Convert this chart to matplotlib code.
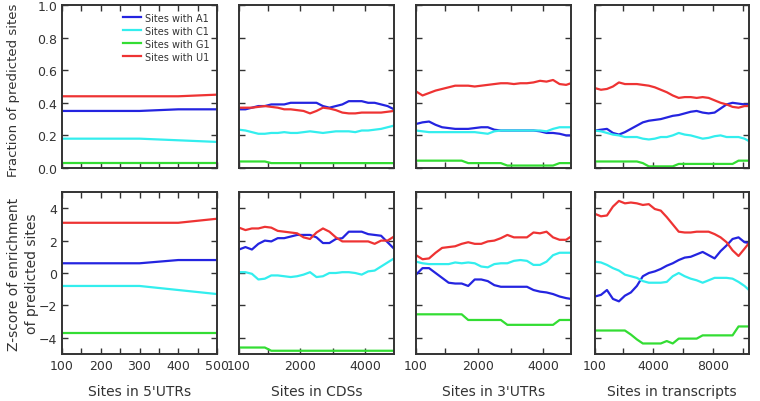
import matplotlib
matplotlib.use("Agg")
import matplotlib.pyplot as plt
from matplotlib.ticker import FixedLocator, NullFormatter

plt.rcParams['font.family'] = ['DejaVu Sans']

series_names = ["Sites with A1", "Sites with C1", "Sites with G1", "Sites with U1"]
colors = ["#2424e0", "#33eeee", "#33dd33", "#ee3333"]

# Panel 1: 5'UTRs
x_utr5 = [100, 200, 300, 400, 500]
frac_utr5 = {
    "A1": [0.35, 0.35, 0.35, 0.36, 0.36],
    "C1": [0.18, 0.18, 0.18, 0.17, 0.16],
    "G1": [0.03, 0.03, 0.03, 0.03, 0.03],
    "U1": [0.44, 0.44, 0.44, 0.44, 0.45],
}
z_utr5 = {
    "A1": [0.6, 0.6, 0.6, 0.8, 0.8],
    "C1": [-0.8, -0.8, -0.8, -1.05, -1.3],
    "G1": [-3.7, -3.7, -3.7, -3.7, -3.7],
    "U1": [3.1, 3.1, 3.1, 3.1, 3.35],
}

# Panel 2: CDSs
x_cds = [100, 300, 500, 700, 900, 1100, 1300, 1500, 1700, 1900, 2100, 2300, 2500,
         2700, 2900, 3100, 3300, 3500, 3700, 3900, 4100, 4300, 4500, 4700, 4900]
frac_cds = {
    "A1": [0.36, 0.36, 0.37, 0.38, 0.38, 0.39, 0.39, 0.39, 0.40, 0.40, 0.40, 0.40, 0.40,
           0.38, 0.37, 0.38, 0.39, 0.41, 0.41, 0.41, 0.40, 0.40, 0.39, 0.38, 0.36],
    "C1": [0.235, 0.23, 0.22, 0.21, 0.21, 0.215, 0.215, 0.22, 0.215, 0.215, 0.22, 0.225, 0.22,
           0.215, 0.22, 0.225, 0.225, 0.225, 0.22, 0.23, 0.23, 0.235, 0.24, 0.25, 0.26],
    "G1": [0.04, 0.04, 0.04, 0.04, 0.04, 0.03, 0.03, 0.03, 0.03, 0.03, 0.03, 0.03, 0.03,
           0.03, 0.03, 0.03, 0.03, 0.03, 0.03, 0.03, 0.03, 0.03, 0.03, 0.03, 0.03],
    "U1": [0.37, 0.37, 0.37, 0.375, 0.38, 0.375, 0.37, 0.36, 0.36, 0.355, 0.35, 0.335, 0.35,
           0.37, 0.365, 0.355, 0.34, 0.335, 0.335, 0.34, 0.34, 0.34, 0.34, 0.345, 0.35],
}
z_cds = {
    "A1": [1.45, 1.6, 1.45, 1.8, 2.0, 1.95, 2.15, 2.15, 2.25, 2.35, 2.35, 2.35, 2.2,
           1.85, 1.85, 2.1, 2.15, 2.55, 2.55, 2.55, 2.4, 2.35, 2.3, 1.9, 1.5],
    "C1": [0.05, 0.05, -0.05, -0.4, -0.35, -0.15, -0.15, -0.2, -0.25, -0.2, -0.1, 0.05, -0.25,
           -0.2, 0.0, 0.0, 0.05, 0.05, 0.0, -0.1, 0.1, 0.15, 0.4, 0.65, 0.9],
    "G1": [-4.6, -4.6, -4.6, -4.6, -4.6, -4.8, -4.8, -4.8, -4.8, -4.8, -4.8, -4.8, -4.8,
           -4.8, -4.8, -4.8, -4.8, -4.8, -4.8, -4.8, -4.8, -4.8, -4.8, -4.8, -4.8],
    "U1": [2.8, 2.65, 2.75, 2.75, 2.85, 2.8, 2.6, 2.55, 2.5, 2.45, 2.2, 2.1, 2.5,
           2.75, 2.55, 2.2, 1.95, 1.95, 1.95, 1.95, 1.95, 1.8, 2.0, 2.0, 2.25],
}

# Panel 3: 3'UTRs
x_utr3 = [100, 300, 500, 700, 900, 1100, 1300, 1500, 1700, 1900, 2100, 2300, 2500,
          2700, 2900, 3100, 3300, 3500, 3700, 3900, 4100, 4300, 4500, 4700, 4850]
frac_utr3 = {
    "A1": [0.27, 0.28, 0.285, 0.265, 0.25, 0.245, 0.24, 0.24, 0.24, 0.245, 0.25, 0.25, 0.235,
           0.23, 0.23, 0.23, 0.23, 0.23, 0.23, 0.225, 0.215, 0.215, 0.21, 0.2, 0.2],
    "C1": [0.23, 0.225, 0.22, 0.22, 0.22, 0.22, 0.22, 0.22, 0.22, 0.22, 0.215, 0.21, 0.225,
           0.23, 0.23, 0.23, 0.23, 0.23, 0.23, 0.23, 0.225, 0.24, 0.25, 0.25, 0.25],
    "G1": [0.045, 0.045, 0.045, 0.045, 0.045, 0.045, 0.045, 0.045, 0.03, 0.03, 0.03, 0.03, 0.03,
           0.03, 0.015, 0.015, 0.015, 0.015, 0.015, 0.015, 0.015, 0.015, 0.03, 0.03, 0.03],
    "U1": [0.47, 0.445, 0.46, 0.475, 0.485, 0.495, 0.505, 0.505, 0.505, 0.50, 0.505, 0.51, 0.515,
           0.52, 0.52, 0.515, 0.52, 0.52, 0.525, 0.535, 0.53, 0.54, 0.515, 0.51, 0.52],
}
z_utr3 = {
    "A1": [-0.1, 0.3, 0.3, 0.0, -0.3, -0.6, -0.65, -0.65, -0.8, -0.4, -0.4, -0.5, -0.75,
           -0.85, -0.85, -0.85, -0.85, -0.85, -1.05, -1.15, -1.2, -1.3, -1.45, -1.55, -1.6],
    "C1": [0.7, 0.6, 0.55, 0.55, 0.55, 0.55, 0.65, 0.6, 0.65, 0.6, 0.4, 0.35, 0.55,
           0.6, 0.6, 0.75, 0.8, 0.75, 0.5, 0.5, 0.7, 1.1, 1.25, 1.25, 1.25],
    "G1": [-2.55, -2.55, -2.55, -2.55, -2.55, -2.55, -2.55, -2.55, -2.9, -2.9, -2.9, -2.9, -2.9,
           -2.9, -3.2, -3.2, -3.2, -3.2, -3.2, -3.2, -3.2, -3.2, -2.9, -2.9, -2.9],
    "U1": [1.1, 0.85, 0.9, 1.25, 1.55, 1.6, 1.65, 1.8, 1.9, 1.8, 1.8, 1.95, 2.0,
           2.15, 2.35, 2.2, 2.2, 2.2, 2.5, 2.45, 2.55, 2.2, 2.05, 2.05, 2.25],
}

# Panel 4: transcripts
x_tx = [100, 500, 900, 1300, 1700, 2100, 2500, 2900, 3300, 3700, 4100, 4500, 4900, 5300,
        5700, 6100, 6500, 6900, 7300, 7700, 8100, 8500, 8900, 9300, 9700, 10100, 10400]
frac_tx = {
    "A1": [0.23, 0.235, 0.24, 0.215, 0.205, 0.22, 0.24, 0.26, 0.28, 0.29, 0.295, 0.30, 0.31, 0.32,
           0.325, 0.335, 0.345, 0.35, 0.34, 0.335, 0.34, 0.365, 0.39, 0.40, 0.395, 0.39, 0.39],
    "C1": [0.23, 0.225, 0.215, 0.205, 0.20, 0.19, 0.19, 0.19, 0.18, 0.175, 0.18, 0.19, 0.19, 0.20,
           0.215, 0.205, 0.20, 0.19, 0.18, 0.185, 0.195, 0.20, 0.19, 0.19, 0.19, 0.18, 0.165],
    "G1": [0.04, 0.04, 0.04, 0.04, 0.04, 0.04, 0.04, 0.04, 0.03, 0.01, 0.01, 0.01, 0.01, 0.01,
           0.025, 0.025, 0.025, 0.025, 0.025, 0.025, 0.025, 0.025, 0.025, 0.025, 0.045, 0.045, 0.045],
    "U1": [0.49, 0.48, 0.485, 0.50, 0.525, 0.515, 0.515, 0.515, 0.51, 0.505, 0.495, 0.48, 0.465, 0.445,
           0.43, 0.435, 0.435, 0.43, 0.435, 0.43, 0.415, 0.40, 0.39, 0.375, 0.37, 0.38, 0.38],
}
z_tx = {
    "A1": [-1.45, -1.35, -1.05, -1.6, -1.75, -1.4, -1.2, -0.8, -0.2, 0.0, 0.1, 0.25, 0.45, 0.6,
           0.8, 0.95, 1.0, 1.15, 1.3, 1.1, 0.9, 1.35, 1.7, 2.1, 2.2, 1.9, 1.85],
    "C1": [0.7, 0.65, 0.5, 0.3, 0.15, -0.1, -0.2, -0.3, -0.5, -0.6, -0.6, -0.6, -0.55, -0.2,
           0.0, -0.2, -0.35, -0.45, -0.6, -0.45, -0.3, -0.3, -0.3, -0.35, -0.55, -0.8, -1.05],
    "G1": [-3.55, -3.55, -3.55, -3.55, -3.55, -3.55, -3.8, -4.1, -4.35, -4.35, -4.35, -4.35, -4.2, -4.35,
           -4.05, -4.05, -4.05, -4.05, -3.85, -3.85, -3.85, -3.85, -3.85, -3.85, -3.3, -3.3, -3.3],
    "U1": [3.65, 3.5, 3.55, 4.1, 4.45, 4.3, 4.35, 4.3, 4.2, 4.25, 3.95, 3.85, 3.45, 3.0,
           2.55, 2.5, 2.5, 2.55, 2.55, 2.55, 2.4, 2.2, 1.9, 1.4, 1.05, 1.5, 1.85],
}

keys = ["A1", "C1", "G1", "U1"]
panels = [
    (x_utr5, frac_utr5, z_utr5, (100, 500), [100, 200, 300, 400, 500], [150, 250, 350, 450], "Sites in 5'UTRs"),
    (x_cds, frac_cds, z_cds, (100, 4900), [100, 2000, 4000], [1000, 3000], "Sites in CDSs"),
    (x_utr3, frac_utr3, z_utr3, (100, 4850), [100, 2000, 4000], [1000, 3000], "Sites in 3'UTRs"),
    (x_tx, frac_tx, z_tx, (100, 10400), [100, 4000, 8000], [2000, 6000, 10000], "Sites in transcripts"),
]

W, H = 760, 402
fig = plt.figure(figsize=(W / 100, H / 100), dpi=100)
lefts = [62, 239, 416, 595]
widths = [155, 155, 155, 154]
rows = [(6, 169), (193, 355)]
text_color = "#333333"
FS = 9
LFS = 10

def style(ax):
    for sp in ax.spines.values():
        sp.set_linewidth(1.4)
        sp.set_color("#333333")
    ax.tick_params(which="both", direction="in", top=True, right=True,
                   colors="#333333", labelcolor=text_color, labelsize=FS, width=1.0, length=4)

for ci, (xs, frac, z, xlim, majors, minors, xlabel) in enumerate(panels):
    for ri, (top, bottom) in enumerate(rows):
        ax = fig.add_axes([lefts[ci] / W, 1 - bottom / H, widths[ci] / W, (bottom - top) / H])
        data = frac if ri == 0 else z
        for k, name, col in zip(keys, series_names, colors):
            ax.plot(xs, data[k], color=col, lw=1.6, label=name)
        ax.set_xlim(*xlim)
        ax.xaxis.set_major_locator(FixedLocator(majors))
        ax.xaxis.set_minor_locator(FixedLocator(minors))
        if ri == 0:
            ax.set_ylim(0, 1)
            ax.set_yticks([0.0, 0.2, 0.4, 0.6, 0.8, 1.0])
            ax.set_xticklabels([])
        else:
            ax.set_ylim(-5, 5)
            ax.set_yticks([-4, -2, 0, 2, 4])
            ax.set_xlabel(xlabel, fontsize=LFS, color=text_color, labelpad=9)
        style(ax)
        if ci == 0:
            if ri == 0:
                ax.set_yticklabels(["0.0", "0.2", "0.4", "0.6", "0.8", "1.0"])
                ax.legend(loc="upper right", frameon=False, fontsize=7, handlelength=1.8,
                          handletextpad=0.4, labelspacing=0.3, borderaxespad=0.4,
                          labelcolor=text_color)
        else:
            ax.yaxis.set_major_formatter(NullFormatter())

fig.text(14 / W, 1 - 90 / H, "Fraction of predicted sites", rotation=90,
         ha="center", va="center", fontsize=9.5, color=text_color)
fig.text(14 / W, 1 - 274 / H, "Z-score of enrichment", rotation=90,
         ha="center", va="center", fontsize=LFS, color=text_color)
fig.text(32 / W, 1 - 274 / H, "of predicted sites", rotation=90,
         ha="center", va="center", fontsize=LFS, color=text_color)

fig.savefig("out.png", dpi=100)
